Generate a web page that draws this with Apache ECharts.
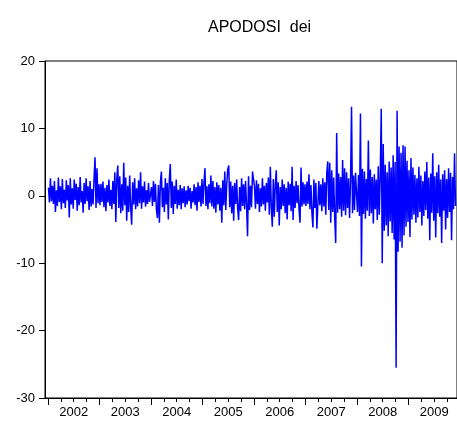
<!DOCTYPE html>
<html>
<head>
<meta charset="utf-8">
<script src="https://cdn.jsdelivr.net/npm/echarts@6/dist/echarts.min.js"></script>
<style>html,body{margin:0;padding:0;background:#fff;}#c{width:457px;height:425px;}</style>
</head>
<body>
<div id="c"></div>
<script>
// Values (about one reading per pixel column), grouped by year
var r2002 = [1.2,-1.0,2.6,-0.8,1.5,-1.2,2.2,-2.4,0.8,-1.5,2.7,-0.9,1.4,-2.0,2.5,-1.1,0.9,-1.8,2.3,-0.7,1.6,-3.2,2.6,-1.3,1.1,-1.9,2.4,-0.6,1.8,-2.2,1.3,-1.4,2.8,-1.0,0.7,-2.5,1.9,-1.2,2.6,-0.8,1.4,-2.1,2.2,-1.6,1.0,-1.3,2.5,5.7,-1.8,4.1,-1.1,1.7];
var r2003 = [-1.4,1.8,-0.9,2.1,-1.7,1.2,-2.3,1.6,-1.0,2.4,-1.5,0.9,-2.0,2.2,-1.2,3.5,-3.9,2.6,4.5,-1.8,2.9,-2.6,1.7,-2.2,4.9,-1.4,2.7,-3.7,1.5,-2.4,3.0,-1.7,-4.3,2.0,-1.3,2.6,-2.0,1.1,-1.6,2.3,-1.1,3.5,-1.9,1.4,-1.0,2.1,-1.6,0.8,-1.2,1.9,-0.9];
var r2004 = [1.3,-1.5,2.2,-0.9,1.8,-2.1,-3.3,1.6,-4.0,2.0,3.6,-1.7,1.2,-2.4,2.6,-1.3,1.9,-3.5,2.3,4.7,-1.8,2.1,-2.7,1.5,-1.2,2.4,-1.9,0.9,-1.4,1.6,-2.0,1.1,-1.1,1.4,-1.7,0.8,-1.3,1.5,-0.8,1.2,-1.9,0.7,-1.0,1.7,-1.4,1.3,-2.2,2.0,-0.9,1.5,-1.6,2.5];
var r2005 = [-1.2,1.9,4.1,-1.5,1.4,-2.0,1.7,-1.1,3.0,-1.6,2.2,-1.9,1.3,-2.5,2.0,-1.3,1.6,-2.2,1.2,-4.0,2.3,-1.4,3.6,-2.1,1.8,3.9,4.5,-1.7,2.1,-2.6,1.5,-3.7,1.9,-1.2,2.4,-1.8,-3.6,1.3,-2.3,2.6,-1.5,1.7,-2.0,2.2,-1.4,-6.0,2.9,-2.1,1.5,-1.7,3.6];
var r2006 = [1.4,-1.9,2.3,-1.2,1.8,-2.4,1.1,-1.6,2.6,-1.3,1.5,-2.2,1.9,-1.0,2.7,-2.8,4.3,-1.7,-4.6,2.5,-3.1,1.6,3.8,-2.4,2.0,-4.4,1.3,-2.0,2.4,-1.5,1.7,-2.6,1.2,-3.5,2.1,-1.4,1.8,-2.3,4.3,-3.6,1.5,-1.8,2.2,-1.1,1.6,-2.0,-4.0,4.2,-1.6,2.0,-1.3,1.7];
var r2007 = [-1.5,2.1,-1.2,3.2,-2.0,1.6,-2.5,-4.7,2.4,-1.8,1.9,-4.9,-5.1,2.2,-1.4,1.7,-2.3,2.6,-1.6,2.0,-2.8,3.4,5.1,-2.1,4.9,-4.0,3.8,-2.4,2.7,-3.2,-7.0,9.3,-2.5,3.3,-2.0,2.8,-3.1,5.3,-2.2,4.1,-2.9,3.5,-1.8,2.6,-3.3,2.2,13.2,-2.6,3.0,-2.1,3.4];
var r2008 = [-2.4,3.1,-3.0,12.2,-10.5,4.0,-2.7,3.6,-3.4,2.5,-2.2,8.2,-3.0,3.9,-2.6,2.8,-4.1,3.2,-2.0,2.4,-3.6,4.4,-2.8,3.0,12.9,-10.0,7.7,-5.2,4.6,-4.4,3.5,-6.0,5.1,-3.8,4.2,-5.5,6.0,-6.5,5.0,-25.5,12.6,-8.3,7.3,-6.8,6.4,-7.7,7.5,-5.9,7.3,-4.6,5.2,-3.9];
var r2009 = [3.8,-6.1,5.6,-3.5,4.2,-2.8,3.1,-4.0,2.6,-3.2,4.3,-2.4,3.0,-4.4,2.2,-3.0,3.6,-2.1,5.0,-3.4,2.7,-6.6,3.3,-2.5,6.3,-3.7,2.9,-6.2,3.5,-2.6,4.6,-3.1,2.4,-7.0,3.2,-2.2,3.8,-5.0,2.5,-3.3,4.1,-2.4,3.4,-6.6,2.8,-2.0,6.3,-1.5];

var years = [2002, 2003, 2004, 2005, 2006, 2007, 2008, 2009];
var yearValues = [r2002, r2003, r2004, r2005, r2006, r2007, r2008, r2009];
var title = 'APODOSI  dei';

var data = [];
years.forEach(function (yr, k) {
  var vals = yearValues[k];
  for (var i = 0; i < vals.length; i++) {
    data.push([yr + (i + 0.5) / 52, vals[i]]);
  }
});

var xMin = 2001.942, xMax = 2009.942;
var yearTicks = years.slice();
var quarterTicks = [];
years.forEach(function (y) { quarterTicks.push(y + 0.25, y + 0.5, y + 0.75); });
var labelPos = years.map(function (y) { return y + 0.5; });

var chart = echarts.init(document.getElementById('c'), null, {renderer: 'canvas'});
chart.setOption({
  animation: false,
  backgroundColor: '#ffffff',
  title: {
    text: title,
    left: 203, top: 15,
    textStyle: {fontFamily: 'Liberation Sans, Arial', fontSize: 16, fontWeight: 'normal', color: '#000'}
  },
  grid: {left: 45, right: 0, top: 61, bottom: 27, show: true, borderColor: '#000', borderWidth: 1, backgroundColor: 'transparent'},
  xAxis: [{
    type: 'value', min: xMin, max: xMax, position: 'bottom',
    axisLine: {show: true, onZero: false, lineStyle: {color: '#000', width: 1}},
    axisTick: {show: true, customValues: yearTicks, length: 7, lineStyle: {color: '#000'}},
    axisLabel: {show: true, customValues: labelPos, margin: 8, fontFamily: 'Liberation Sans, Arial', fontSize: 13, color: '#000',
      formatter: function (v) { return String(Math.floor(v)); }},
    splitLine: {show: false}
  }, {
    type: 'value', min: xMin, max: xMax, position: 'bottom', gridIndex: 0,
    axisLine: {show: false, onZero: false},
    axisTick: {show: true, customValues: quarterTicks, length: 4, lineStyle: {color: '#000'}},
    axisLabel: {show: false},
    splitLine: {show: false}
  }],
  yAxis: {
    type: 'value', min: -30, max: 20, interval: 10,
    axisLine: {show: true, onZero: false, lineStyle: {color: '#000', width: 1}},
    axisTick: {show: true, length: 6, lineStyle: {color: '#000'}},
    axisLabel: {margin: 10, fontFamily: 'Liberation Sans, Arial', fontSize: 13, color: '#000'},
    splitLine: {show: false}
  },
  series: [{
    type: 'line', xAxisIndex: 0, data: data, showSymbol: false, symbol: 'none',
    lineStyle: {color: '#0000ff', width: 1.5}, silent: true
  }]
});
</script>
</body>
</html>
